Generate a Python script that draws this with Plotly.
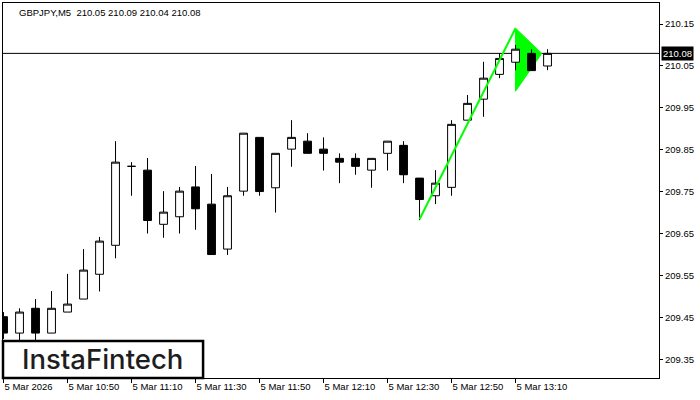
import plotly.graph_objects as go

DAY = "2026-03-05"
times = ["10:30", "10:35", "10:40", "10:45", "10:50", "10:55", "11:00", "11:05", "11:10", "11:15",
         "11:20", "11:25", "11:30", "11:35", "11:40", "11:45", "11:50", "11:55", "12:00", "12:05",
         "12:10", "12:15", "12:20", "12:25", "12:30", "12:35", "12:40", "12:45", "12:50", "12:55",
         "13:00", "13:05", "13:10", "13:15", "13:20"]
opens = [209.453, 209.414, 209.473, 209.414, 209.464, 209.495, 209.554, 209.623, 209.811, 209.802,
         209.673, 209.691, 209.762, 209.721, 209.614, 209.752, 209.880, 209.760, 209.852, 209.871,
         209.852, 209.830, 209.830, 209.802, 209.842, 209.861, 209.783, 209.741, 209.761, 209.921,
         209.971, 210.030, 210.059, 210.080, 210.050]
highs = [209.464, 209.473, 209.495, 209.514, 209.555, 209.614, 209.643, 209.871, 209.821, 209.831,
         209.752, 209.762, 209.812, 209.793, 209.762, 209.890, 209.880, 209.842, 209.921, 209.890,
         209.880, 209.842, 209.842, 209.830, 209.871, 209.871, 209.783, 209.802, 209.921, 209.981,
         210.060, 210.080, 210.100, 210.090, 210.090]
lows = [209.400, 209.380, 209.380, 209.414, 209.464, 209.495, 209.513, 209.592, 209.741, 209.651,
        209.641, 209.651, 209.660, 209.601, 209.600, 209.741, 209.741, 209.701, 209.810, 209.842,
        209.801, 209.771, 209.791, 209.760, 209.801, 209.771, 209.683, 209.721, 209.741, 209.921,
        209.929, 210.021, 210.040, 210.039, 210.040]
closes = [209.414, 209.464, 209.414, 209.473, 209.483, 209.564, 209.633, 209.821, 209.811, 209.682,
          209.702, 209.752, 209.710, 209.601, 209.741, 209.890, 209.751, 209.842, 209.880, 209.842,
          209.842, 209.821, 209.811, 209.830, 209.871, 209.791, 209.732, 209.771, 209.911, 209.961,
          210.021, 210.068, 210.090, 210.039, 210.080]

# pattern: flagpole line and pennant triangle
pole_times = ["12:40:00", "13:10:00"]
pole_prices = [209.685, 210.140]
pennant_times = ["13:10:00", "13:18:12", "13:10:00"]
pennant_prices = [210.140, 210.080, 209.990]

current_price = 210.08
title_text = "GBPJPY,M5\u00a0\u00a0210.05 210.09 210.04 210.08"

y_ticks = [209.35, 209.45, 209.55, 209.65, 209.75, 209.85, 209.95, 210.05, 210.15]
x_tick_times = ["10:30", "10:50", "11:10", "11:30", "11:50", "12:10", "12:30", "12:50", "13:10"]
x_tick_labels = ["5 Mar 2026", "5 Mar 10:50", "5 Mar 11:10", "5 Mar 11:30", "5 Mar 11:50",
                 "5 Mar 12:10", "5 Mar 12:30", "5 Mar 12:50", "5 Mar 13:10"]

x = [f"{DAY} {t}" for t in times]
FONT = "Liberation Sans, Arial, sans-serif"

fig = go.Figure()
fig.add_trace(go.Candlestick(
    x=x, open=opens, high=highs, low=lows, close=closes,
    increasing=dict(line=dict(color="black", width=1), fillcolor="white"),
    decreasing=dict(line=dict(color="black", width=1), fillcolor="black"),
    whiskerwidth=0, showlegend=False, hoverinfo="skip"))
fig.add_trace(go.Scatter(
    x=[f"{DAY} {t}" for t in pole_times], y=pole_prices, mode="lines",
    line=dict(color="#00ff00", width=2), showlegend=False, hoverinfo="skip"))

path = "M " + " L ".join(f"{DAY}_{t},{p}" for t, p in zip(pennant_times, pennant_prices)) + " Z"
shapes = [
    dict(type="path", path=path, xref="x", yref="y", fillcolor="#00ff00",
         line=dict(color="#00ff00", width=1), layer="below"),
    dict(type="line", xref="paper", x0=0, x1=1, yref="y", y0=current_price, y1=current_price,
         line=dict(color="black", width=1), layer="below"),
    dict(type="rect", xref="paper", yref="paper", x0=0, x1=0.305, y0=0, y1=0.0987,
         fillcolor="white", line=dict(color="black", width=2.5), layer="above"),
]

annotations = [
    dict(text=title_text, xref="paper", yref="paper", x=0.0213, y=0.976, xanchor="left",
         yanchor="middle", showarrow=False, font=dict(family=FONT, size=9.5, color="black")),
    dict(text=f"{current_price:.2f}", xref="paper", yref="y", x=1, y=current_price,
         xanchor="left", yanchor="middle", xshift=2, showarrow=False, bgcolor="black",
         borderpad=1, font=dict(family=FONT, size=9.5, color="white")),
    dict(text="InstaFintech", xref="paper", yref="paper", x=0.151, y=0.05,
         xanchor="center", yanchor="middle", showarrow=False,
         font=dict(family="Inter, Noto Sans, sans-serif", size=27.5, color="#1e1e1e",
                   weight=500)),
]

fig.update_layout(
    width=700, height=400,
    margin=dict(l=3, r=41, t=3, b=22),
    paper_bgcolor="white", plot_bgcolor="white",
    shapes=shapes, annotations=annotations,
    boxgap=0.3,
    xaxis=dict(
        type="date", range=[f"{DAY} 10:29:50", f"{DAY} 13:54:50"],
        rangeslider=dict(visible=False), showgrid=False, zeroline=False,
        showline=True, linecolor="black", linewidth=1, mirror=True,
        ticks="outside", ticklen=4, tickcolor="black",
        tickvals=[f"{DAY} {t}" for t in x_tick_times], ticktext=x_tick_labels,
        ticklabelposition="outside right",
        tickfont=dict(family=FONT, size=9.5, color="black")),
    yaxis=dict(
        side="right", range=[209.307, 210.2], showgrid=False, zeroline=False,
        showline=True, linecolor="black", linewidth=1, mirror=True,
        ticks="outside", ticklen=3, tickcolor="black",
        tickvals=y_ticks, tickformat=".2f",
        tickfont=dict(family=FONT, size=9.5, color="black")),
)

fig.write_html("out.html", config={"displayModeBar": False},
               post_script="document.body.style.margin='0';")
